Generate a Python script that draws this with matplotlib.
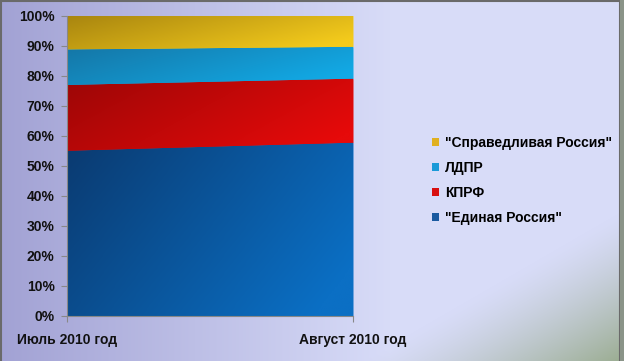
import matplotlib.pyplot as plt
import matplotlib.colors as mcolors
from matplotlib.patches import Patch
import numpy as np

plt.rcParams['font.family'] = ['Liberation Sans', 'DejaVu Sans']
plt.rcParams['font.weight'] = 'bold'

# months and party shares (percent)
months = ['Июль 2010 год', 'Август 2010 год']
parties = ['"Единая Россия"', 'КПРФ', 'ЛДПР', '"Справедливая Россия"']
er = [55.0, 57.7]
kprf = [21.9, 21.3]
ldpr = [11.8, 10.6]
sr = [11.3, 10.4]

# dark / light end of the shading for each band
dark_cols = ['#0a3a70', '#9c0606', '#1576a6', '#a8850f']
light_cols = ['#0b6fc4', '#e60a0a', '#12aae6', '#f4cb1c']
legend_cols = ['#1a5aa0', '#d81010', '#1a9ad8', '#e0b020']

fig = plt.figure(figsize=(6.24, 3.61), dpi=100)

# background gradient for the whole figure
bg = fig.add_axes([0, 0, 1, 1], zorder=-10)
h, w = 361, 624
yy, xx = np.mgrid[0:h, 0:w]
u = xx / w
v = yy / h
c_left = np.array(mcolors.to_rgb('#a2a2d4'))
c_mid = np.array(mcolors.to_rgb('#d8dcf8'))
c_corner = np.array(mcolors.to_rgb('#9aac90'))
t = np.clip(u * 1.6, 0, 1)[..., None]
img = c_left * (1 - t) + c_mid * t
d = np.clip((u + v - 1.58) / 0.42, 0, 1)[..., None] ** 1.3
img = img * (1 - d) + c_corner * d
bg.imshow(img, aspect='auto', extent=[0, 1, 0, 1])
bg.set_xlim(0, 1)
bg.set_ylim(0, 1)
bg.axis('off')
bg.add_patch(plt.Rectangle((0.001, -0.01), 0.992, 1.007, fill=False,
                           edgecolor='#6a6a6a', linewidth=1.5))
bg.add_patch(plt.Rectangle((0.994, 0), 0.006, 1, color='#8a9488', linewidth=0))

ax = fig.add_axes([0.1074, 0.1247, 0.4583, 0.8323])
ax.patch.set_alpha(0)
x = np.arange(len(months))
layers = [er, kprf, ldpr, sr]
base = np.zeros(len(months))
for vals, dc, lc, name in zip(layers, dark_cols, light_cols, parties):
    top = base + np.array(vals)
    poly = ax.fill_between(x, base, top, color=lc, linewidth=0, label=name)
    cmap = mcolors.LinearSegmentedColormap.from_list('g', [dc, lc])
    gx, gy = np.meshgrid(np.linspace(0, 1, 200), np.linspace(1, 0, 100))
    grad = np.clip(0.75 * gx + 0.35 * (1 - gy), 0, 1)
    im = ax.imshow(grad, cmap=cmap, aspect='auto', extent=[0, 1, base.min(), top.max()],
                   interpolation='bilinear', zorder=2)
    im.set_clip_path(poly.get_paths()[0], transform=ax.transData)
    base = top

ax.set_xlim(0, 1)
ax.set_ylim(0, 100)
ax.set_yticks(np.arange(0, 101, 10))
ax.set_yticklabels([f'{i}%' for i in range(0, 101, 10)])
ax.set_xticks(x)
ax.set_xticklabels(months)
ax.tick_params(axis='both', labelsize=10, colors='#888888', labelcolor='#111111', length=4)
ax.tick_params(axis='y', pad=5)
ax.tick_params(axis='x', pad=8)
for s in ['top', 'right']:
    ax.spines[s].set_visible(False)
for s in ['left', 'bottom']:
    ax.spines[s].set_color('#888888')
    ax.spines[s].set_zorder(3)

handles = [Patch(facecolor=c, edgecolor='none') for c in legend_cols]
leg = fig.legend(handles[::-1], parties[::-1], loc='center left',
                 bbox_to_anchor=(0.673, 0.5), frameon=False, fontsize=10,
                 handlelength=0.5, handleheight=0.5, handletextpad=0.4,
                 labelspacing=0.78)

fig.savefig('out.png', dpi=100)
